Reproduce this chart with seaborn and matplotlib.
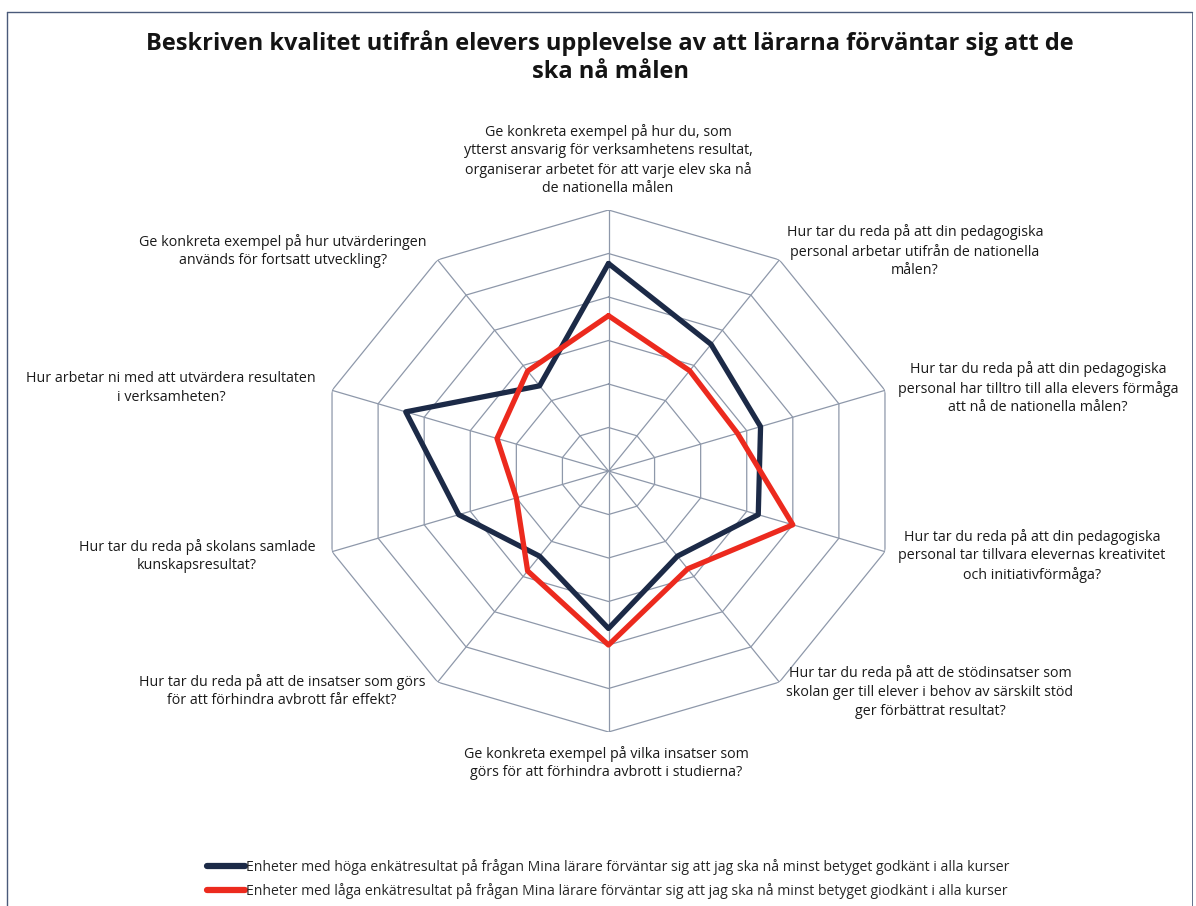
import numpy as np
import pandas as pd
import matplotlib
matplotlib.use("Agg")
import matplotlib.pyplot as plt
from matplotlib.lines import Line2D
import seaborn as sns

# ---------------- data ----------------
title_text = ("Beskriven kvalitet utifrån elevers upplevelse av att lärarna förväntar sig att de\n"
              "ska nå målen")

categories = [
    "Ge konkreta exempel på hur du, som\nytterst ansvarig för verksamhetens resultat,\norganiserar arbetet för att varje elev ska nå\nde nationella målen",
    "Hur tar du reda på att din pedagogiska\npersonal arbetar utifrån de nationella\nmålen?",
    "Hur tar du reda på att din pedagogiska\npersonal har tilltro till alla elevers förmåga\natt nå de nationella målen?",
    "Hur tar du reda på att din pedagogiska\npersonal tar tillvara elevernas kreativitet\noch initiativförmåga?",
    "Hur tar du reda på att de stödinsatser som\nskolan ger till elever i behov av särskilt stöd\nger förbättrat resultat?",
    "Ge konkreta exempel på vilka insatser som\ngörs för att förhindra avbrott i studierna?",
    "Hur tar du reda på att de insatser som görs\nför att förhindra avbrott får effekt?",
    "Hur tar du reda på skolans samlade\nkunskapsresultat?",
    "Hur arbetar ni med att utvärdera resultaten\ni verksamheten?",
    "Ge konkreta exempel på hur utvärderingen\nanvänds för fortsatt utveckling?",
]

series_names = [
    "Enheter med höga enkätresultat på frågan Mina lärare förväntar sig att jag ska nå minst betyget godkänt i alla kurser",
    "Enheter med låga enkätresultat på frågan Mina lärare förväntar sig att jag ska nå minst betyget giodkänt i alla kurser",
]
high_values = [4.77, 3.6, 3.3, 3.25, 2.42, 3.62, 2.42, 3.25, 4.4, 2.42]
low_values = [3.57, 2.85, 2.8, 4.0, 2.78, 4.0, 2.84, 2.0, 2.42, 2.84]
ring_levels = [1, 2, 3, 4, 5, 6]

# ---------------- style ----------------
sns.set_theme(style="white")
plt.rcParams["font.family"] = ["Open Sans", "DejaVu Sans"]

W, H = 1196, 906
def fx(x):
    return x / W
def fy(y):
    return 1 - y / H

navy = "#1c2a47"
red = "#ec2a1e"
grid_col = "#8e98aa"

fig = plt.figure(figsize=(W / 100, H / 100), dpi=100)
fig.patch.set_facecolor("white")

# polar axes stretched horizontally like the reference
ax = fig.add_axes([317.8 / W, fy(732), 581.4 / W, 522 / H], projection="polar")
ax.set_aspect("auto")
ax.set_theta_offset(np.pi / 2)
ax.set_theta_direction(-1)
ax.set_ylim(0, max(ring_levels))
ax.grid(False)
ax.spines["polar"].set_visible(False)
ax.patch.set_alpha(0)

n = len(categories)
angles = np.linspace(0, 2 * np.pi, n, endpoint=False)
angles_closed = np.append(angles, 2 * np.pi)

# polygon grid
for r in ring_levels:
    ax.plot(angles_closed, [r] * (n + 1), color=grid_col, lw=0.9, zorder=1)
for a in angles:
    ax.plot([a, a], [0, max(ring_levels)], color=grid_col, lw=0.9, zorder=1)

# data lines through seaborn
rows = []
for name, vals in zip(series_names, [high_values, low_values]):
    closed = list(vals) + [vals[0]]
    for a, v in zip(angles_closed, closed):
        rows.append({"theta": a, "value": v, "series": name})
df = pd.DataFrame(rows)
sns.lineplot(data=df, x="theta", y="value", hue="series", hue_order=series_names,
             palette=[navy, red], sort=False, estimator=None,
             linewidth=3.8, legend=False, ax=ax, zorder=3)
ax.set_xlabel("")
ax.set_ylabel("")
ax.set_xticks([])
ax.set_yticks([])
ax.set_ylim(0, max(ring_levels))

# category labels (position in pixels)
label_pos = [
    (608, 160), (915, 251), (1038, 388), (1032, 556), (930, 692),
    (606, 763), (282, 691), (197, 556), (171, 388), (283, 251),
]
for txt, (x, y) in zip(categories, label_pos):
    fig.text(fx(x), fy(y), txt, ha="center", va="center", fontsize=10.3,
             linespacing=1.32, color="#1a1a1a", multialignment="center")

# title
fig.text(fx(610), fy(57), title_text, ha="center", va="center", fontsize=17.0,
         fontweight="bold", color="#141414", linespacing=1.22)

# legend
handles = [Line2D([], [], color=navy, lw=4.5), Line2D([], [], color=red, lw=4.5)]
fig.legend(handles, series_names, loc="center", bbox_to_anchor=(fx(608), fy(879)),
           frameon=False, fontsize=10.1, handlelength=2.7, handletextpad=0.05,
           labelspacing=0.62)

# outer frame
frame_col = "#4a5a7a"
fig.add_artist(Line2D([fx(7), fx(7)], [fy(12), 0], color=frame_col, lw=1))
fig.add_artist(Line2D([fx(7), fx(1192)], [fy(12), fy(12)], color=frame_col, lw=1))
fig.add_artist(Line2D([fx(1192), fx(1192)], [fy(12), 0], color=frame_col, lw=0.6))

fig.savefig("out.png", dpi=100, facecolor="white")
